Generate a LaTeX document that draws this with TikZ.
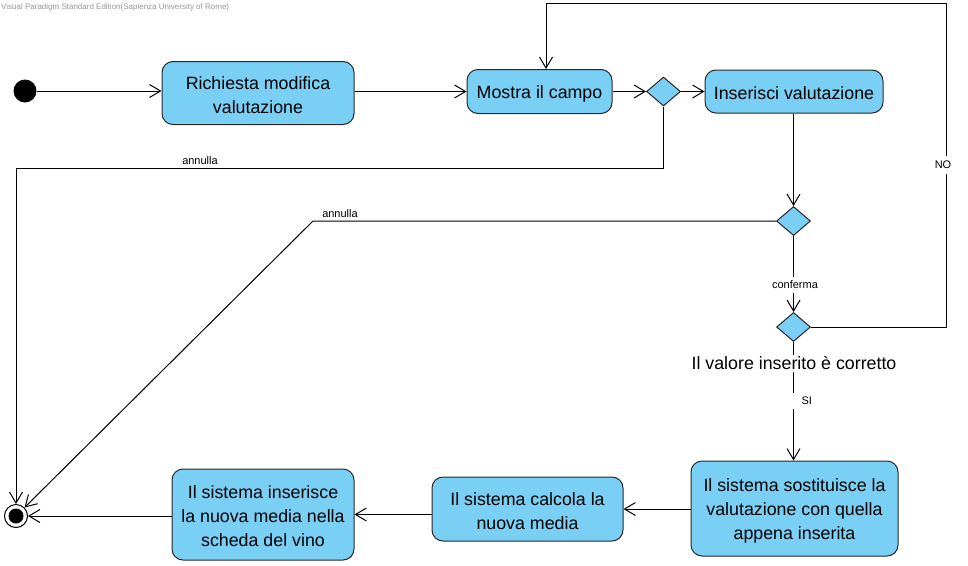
\documentclass[tikz,border=0pt]{standalone}
\usepackage{fontspec}
\setmainfont{Liberation Sans}
\usetikzlibrary{arrows.meta,shapes.geometric}
\definecolor{actfill}{RGB}{122,207,245}
\definecolor{actline}{RGB}{40,40,40}
\definecolor{wmark}{RGB}{150,150,150}
\newcommand\toppad{\rule{0pt}{17pt}}
\begin{document}
\begin{tikzpicture}[x=1pt,y=-1pt,
  act/.style={draw=actline, line width=1pt, fill=actfill, rounded corners=11pt,
    align=center, font=\fontsize{17.8}{24}\selectfont, inner sep=0pt},
  dec/.style={diamond, draw=actline, fill=actfill, line width=1pt,
    minimum width=34pt, minimum height=29pt, inner sep=0pt},
  arr/.style={draw=black, line width=1pt, -{Straight Barb[length=11pt,width=13pt]}},
  lab/.style={font=\fontsize{11}{13}\selectfont, inner sep=1pt},
  big/.style={font=\fontsize{17.8}{24}\selectfont, inner sep=2pt}]
\useasboundingbox (0,0) rectangle (968,565);
\node[anchor=west, text=wmark, font=\fontsize{8}{9}\selectfont, inner sep=0pt] (wm) at (1,7) {Visual Paradigm Standard Edition(Sapienza University of Rome)};

% nodes
\node[circle, fill=black, minimum size=23pt, inner sep=0pt] (I) at (25,91) {};
\node[act, minimum width=192pt, minimum height=63pt] (A1) at (258,93) {\toppad Richiesta modifica\\valutazione};
\node[act, minimum width=145pt, minimum height=44pt] (A2) at (539.5,91.5) {\toppad Mostra il campo};
\node[dec] (D1) at (663.5,91.5) {};
\node[act, minimum width=178pt, minimum height=43pt] (A3) at (794,91.5) {\toppad Inserisci valutazione};
\node[dec] (D2) at (793.5,221) {};
\node[dec] (D3) at (793.5,327) {};
\node[act, minimum width=207pt, minimum height=95pt] (A4) at (794.5,508.5) {\toppad Il sistema sostituisce la\\valutazione con quella\\appena inserita};
\node[act, minimum width=191pt, minimum height=64pt] (A5) at (527.5,509) {\toppad Il sistema calcola la\\nuova media};
\node[act, minimum width=182pt, minimum height=91pt] (A6) at (263,514.5) {\toppad Il sistema inserisce\\la nuova media nella\\scheda del vino};
\node[circle, draw=black, line width=1pt, minimum size=23pt, inner sep=0pt] (F) at (16,516) {};
\fill[black] (F.center) circle (7.5pt);

% corner points
\coordinate (c1) at (16,168);
\coordinate (c2) at (313,221);
\coordinate (n1) at (946,3);
\coordinate (n2) at (546,3);

% connectors
\draw[arr] (I) -- (I -| A1.west);
\draw[arr] (A1.east |- A2.west) -- (A2.west);
\draw[arr] (A2) -- (D1);
\draw[arr] (D1) -- (D1 -| A3.west);
\draw[arr] (D1.south) |- (c1) -- (F);
\draw[arr] (A3.south -| D2) -- (D2);
\draw[arr] (D2.west) -- (c2) -- (F);
\draw[arr] (D2) -- (D3);
\draw[arr] (D3.east) -| (n1) -- (n2) -- (n2 |- A2.north);
\draw[arr] (D3) -- (D3 |- A4.north);
\draw[arr] (A4.west |- A5.east) -- (A5.east);
\draw[arr] (A5.west |- A6.east) -- (A6.east);
\draw[arr] (A6.west |- F) -- (F);

% labels
\node[lab] (l1) at (200,160.5) {annulla};
\node[lab] (l2) at (340,213.5) {annulla};
\node[lab, fill=white, inner ysep=4pt] (l3) at (795,285) {conferma};
\node[lab, fill=white, inner ysep=5pt, inner xsep=2pt] (l4) at (943,165) {NO};
\node[big, fill=white] (l5) at (794,363.5) {Il valore inserito è corretto};
\node[lab, fill=white, minimum height=16pt, text width=20pt, align=right, inner xsep=0pt] (l6) at (802,401) {SI};
\end{tikzpicture}
\end{document}
